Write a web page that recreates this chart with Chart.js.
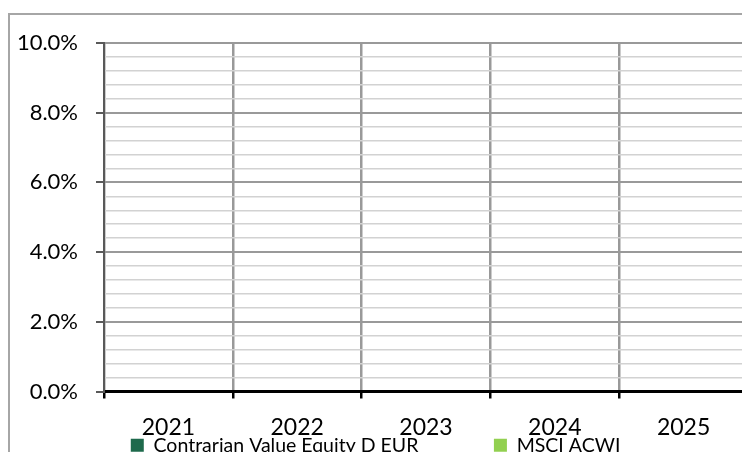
<!DOCTYPE html>
<html lang="en">
<head>
    <meta charset="UTF-8">
    <title>Annual returns</title>
    <script src="https://cdn.jsdelivr.net/npm/chart.js@4.4.1/dist/chart.umd.min.js"></script>
    <style>
        html, body { margin: 0; padding: 0; overflow: hidden; background: #fff; }
        #frame { position: absolute; left: 8px; top: 13px; width: 800px; height: 500px;
                 border-left: 2px solid #a6a6a6; border-top: 2px solid #a6a6a6; }
        #myChart { position: absolute; left: 0; top: 0; }
    </style>
</head>
<body>
<div id="frame"></div>
<canvas id="myChart" width="770" height="465"></canvas>
<script>
    // chart data
    const years = ['2021', '2022', '2023', '2024', '2025'];
    const fundReturns = [null, null, null, null, null];
    const msciReturns = [null, null, null, null, null];
    const yMin = 0;
    const yMax = 10;
    const yStep = 0.4;
    const labelStep = 2;

    function isMajor(v) {
        return Math.abs(v / labelStep - Math.round(v / labelStep)) < 1e-6;
    }

    const ctx = document.getElementById('myChart').getContext('2d');
    const font = 'Lato';

    const myChart = new Chart(ctx, {
        type: 'bar',
        data: {
            labels: years,
            datasets: [
                {
                    label: 'Contrarian Value Equity D EUR',
                    data: fundReturns,
                    backgroundColor: '#1e6a4c',
                    borderWidth: 0
                },
                {
                    label: 'MSCI ACWI',
                    data: msciReturns,
                    backgroundColor: '#92d050',
                    borderWidth: 0
                }
            ]
        },
        options: {
            responsive: false,
            animation: false,
            layout: {
                padding: { top: 43, left: 8, right: 22, bottom: 0 }
            },
            plugins: {
                tooltip: { enabled: false },
                legend: {
                    position: 'bottom',
                    labels: {
                        boxWidth: 13,
                        boxHeight: 13,
                        padding: 0,
                        color: '#000',
                        font: { family: font, size: 19.5 },
                        // spacing between the two entries, as in the original
                        generateLabels: function (chart) {
                            const items = Chart.defaults.plugins.legend.labels.generateLabels(chart);
                            items[0].text = items[0].text + '\u2003\u2003\u2003\u2003\u2003\u2009';
                            items[1].text = items[1].text + '\u2009\u2009';
                            return items;
                        }
                    }
                }
            },
            scales: {
                x: {
                    offset: true,
                    afterFit: function (scale) { scale.height = 44; },
                    grid: {
                        offset: true,
                        color: '#999999',
                        lineWidth: 2.5,
                        tickColor: '#000',
                        tickWidth: 2.5,
                        tickLength: 7
                    },
                    border: { color: '#000', width: 3 },
                    ticks: {
                        color: '#000',
                        padding: 15,
                        font: { family: font, size: 23 }
                    }
                },
                y: {
                    min: yMin,
                    max: yMax,
                    afterFit: function (scale) { scale.width = 96; },
                    grid: {
                        color: c => (c.tick && isMajor(c.tick.value)) ? '#999999' : '#d2d2d2',
                        lineWidth: c => (c.tick && isMajor(c.tick.value)) ? 2 : 1.5,
                        tickColor: c => (c.tick && isMajor(c.tick.value)) ? '#595959' : 'rgba(0,0,0,0)',
                        tickLength: 8
                    },
                    border: { color: '#595959', width: 2 },
                    ticks: {
                        stepSize: yStep,
                        autoSkip: false,
                        color: '#000',
                        padding: 18,
                        font: { family: font, size: 22 },
                        callback: v => isMajor(v) ? v.toFixed(1) + '%' : ''
                    }
                }
            }
        }
    });
</script>
</body>
</html>
